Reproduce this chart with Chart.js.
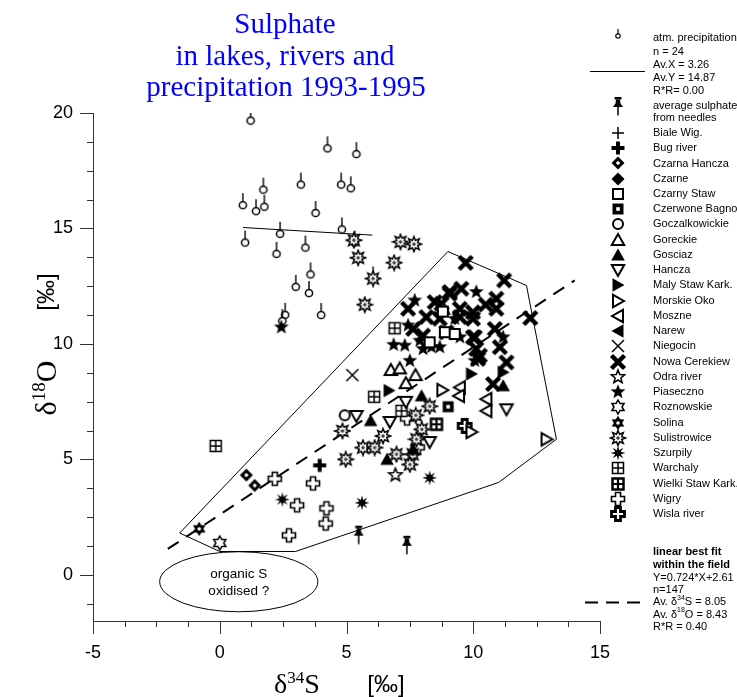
<!DOCTYPE html>
<html lang="en">
<head>
<meta charset="UTF-8">
<title>Sulphate in lakes, rivers and precipitation 1993-1995</title>
<script src="https://cdn.jsdelivr.net/npm/chart.js"></script>
<style>
  body { margin: 0; background: #fff; }
  canvas { display: block; }
</style>
</head>
<body>
<canvas id="chart" width="737" height="697"></canvas>
<script>
// ---- data (x = d34S, y = d18O, permil) ----
const xTicks = [-5, 0, 5, 10, 15];
const yTicks = [0, 5, 10, 15, 20];

const atmPrecip = [[1.22,19.67],[4.25,18.47],[5.39,18.22],[1.72,16.68],[3.20,16.90],[4.79,16.90],[5.17,16.74],[0.91,16.01],
  [1.43,15.75],[1.76,15.94],[3.78,15.67],[2.38,14.77],[4.82,14.96],[1.00,14.39],[2.24,13.90],[3.38,14.17],[3.58,13.01],
  [3.00,12.47],[3.52,12.20],[2.58,11.26],[4.00,11.25],[2.47,10.99],[5.33,14.39],[6.05,12.83]];
const needles = [[5.48,1.74],[7.38,1.30]];

const bialeWig = [];
const bugRiver = [[3.94,4.74]];
const czarnaHancza = [[1.05,4.32],[1.38,3.87]];
const czarne = [];
const czarnyStaw = [[8.88,10.51],[9.27,10.43],[8.28,10.07],[8.80,11.40]];
const czerwoneBagno = [[9.01,7.28]];
const goczalkowickie = [[4.93,6.91]];
const goreckie = [[6.75,8.87],[7.10,8.94],[7.72,8.65],[8.81,11.52],[7.34,8.30]];
const gosciaz = [[7.96,7.75],[5.95,6.68],[11.18,8.19],[6.60,5.00],[7.63,5.43]];
const hancza = [[5.39,6.88],[6.71,6.62],[7.34,7.49],[11.31,7.17],[8.28,5.75]];
const malyStaw = [[6.68,7.98],[9.93,8.70],[11.18,8.77]];
const morskieOko = [[8.78,8.00],[9.93,6.19],[12.89,5.87]];
const moszne = [[9.47,8.12],[9.44,7.75],[10.52,7.61],[10.52,7.10]];
const narew = [];
const niegocin = [[5.23,8.65]];
const nowaCerekiew = [[9.70,13.51],[11.22,12.75],[12.25,11.12],[9.53,12.39],[9.07,12.17],[8.75,11.74],[8.48,11.81],
  [7.43,11.52],[10.91,11.96],[10.49,11.70],[10.91,11.52],[8.15,11.16],[8.68,11.09],[9.47,11.16],[9.99,11.09],[7.63,10.65],
  [10.85,10.65],[10.06,10.29],[11.05,9.86],[10.12,9.78],[10.26,9.49],[11.31,9.20],[10.78,8.26],[8.02,10.36],[8.94,10.50],
  [9.07,12.25],[9.47,11.52],[9.99,11.37],[9.99,10.29],[10.19,9.35]];
const odraRiver = [[6.93,4.32]];
const piaseczno = [[2.43,10.72],[10.12,12.25],[7.69,11.88],[9.27,11.09],[7.43,10.80],[6.86,9.96],[7.30,9.93],[7.89,10.14],
  [8.02,9.78],[8.35,9.86],[8.68,9.86],[9.47,10.29],[7.50,9.27],[10.06,9.27],[11.18,10.29]];
const roznowskie = [[0.00,1.38]];
const solina = [[-0.81,1.99]];
const sulistrowice = [[5.29,14.49],[7.13,14.42],[7.66,14.32],[5.46,13.73],[6.88,13.52],[6.05,12.83],[5.72,11.70],
  [4.84,6.23],[4.97,5.00],[5.65,5.51],[6.11,5.51],[6.44,6.01],[6.97,5.22],[7.73,6.91],[8.28,7.30],[7.97,6.30],
  [7.76,5.87],[7.61,5.22],[7.50,4.78]];
const szurpily = [[2.47,3.26],[5.61,3.12],[8.28,4.20]];
const warchaly = [[-0.16,5.58],[6.90,10.68],[6.09,7.71],[7.17,7.10]];
const wielkiStaw = [[8.55,6.52]];
const wigry = [[2.17,4.16],[3.68,3.96],[3.05,3.01],[4.21,2.88],[4.18,2.22],[2.73,1.71],[7.39,6.77],[7.81,5.52]];
const wislaRiver = [[9.66,6.45]];

const seriesNames = ['Biale Wig.', 'Bug river', 'Czarna Hancza', 'Czarne', 'Czarny Staw', 'Czerwone Bagno',
  'Goczalkowickie', 'Goreckie', 'Gosciaz', 'Hancza', 'Maly Staw Kark.', 'Morskie Oko', 'Moszne', 'Narew',
  'Niegocin', 'Nowa Cerekiew', 'Odra river', 'Piaseczno', 'Roznowskie', 'Solina', 'Sulistrowice', 'Szurpily',
  'Warchaly', 'Wielki Staw Kark.', 'Wigry', 'Wisla river'];
const seriesData = [bialeWig, bugRiver, czarnaHancza, czarne, czarnyStaw, czerwoneBagno, goczalkowickie, goreckie,
  gosciaz, hancza, malyStaw, morskieOko, moszne, narew, niegocin, nowaCerekiew, odraRiver, piaseczno, roznowskie,
  solina, sulistrowice, szurpily, warchaly, wielkiStaw, wigry, wislaRiver];

// lines
const precipFit = [[0.92,15.04],[6.02,14.71]];
const bestFit = [[-2.05,1.12],[14.0,12.75]];
const field = [[-1.58,1.81],[0.0,1.01],[2.99,1.01],[11.0,4.0],[13.28,5.87],[12.1,12.53],[9.0,14.0],[-1.58,1.81]];
const organicEllipse = { cx: 0.75, cy: -0.3, rx: 3.12, ry: 1.3 };

const precipNotes = ['n = 24', 'Av.X = 3.26', 'Av.Y = 14.87', 'R*R= 0.00'];
const fitNotes = ['Y=0.724*X+2.61', 'n=147'];

// ---- marker images ----
function marker(w, h, fn) {
  const c = document.createElement('canvas');
  c.width = w; c.height = h;
  const g = c.getContext('2d');
  g.translate(w / 2, h / 2);
  g.strokeStyle = '#000'; g.fillStyle = '#000';
  g.lineJoin = 'miter';
  fn(g);
  return c;
}
function path(g, pts) {
  g.beginPath();
  pts.forEach((p, i) => i ? g.lineTo(p[0], p[1]) : g.moveTo(p[0], p[1]));
  g.closePath();
}
function starPts(n, ro, ri) {
  const pts = [];
  for (let i = 0; i < 2 * n; i++) {
    const a = i * Math.PI / n, r = i % 2 ? ri : ro;
    pts.push([r * Math.sin(a), -r * Math.cos(a)]);
  }
  return pts;
}
function open(g, pts, lw) { path(g, pts); g.fillStyle = '#fff'; g.fill(); g.lineWidth = lw; g.stroke(); }
function solid(g, pts) { path(g, pts); g.fillStyle = '#000'; g.fill(); }
function lines(g, segs, lw) {
  g.lineWidth = lw; g.beginPath();
  segs.forEach(s => { g.moveTo(s[0], s[1]); g.lineTo(s[2], s[3]); });
  g.stroke();
}
const cross = (a, L) => [[-a,-L],[a,-L],[a,-a],[L,-a],[L,a],[a,a],[a,L],[-a,L],[-a,a],[-L,a],[-L,-a],[-a,-a]];
const box = s => [[-s,-s],[s,-s],[s,s],[-s,s]];
const diamond = r => [[0,-r],[r,0],[0,r],[-r,0]];

const mk = {
  pin: marker(12, 28, g => {
    lines(g, [[0, -3.5, 0, -12]], 1.4);
    g.beginPath(); g.arc(0, 0, 3.6, 0, 2 * Math.PI);
    g.fillStyle = '#fff'; g.fill(); g.lineWidth = 1.5; g.stroke();
  }),
  pinSmall: marker(10, 18, g => {
    lines(g, [[0, -2, 0, -7]], 1.2);
    g.beginPath(); g.arc(0, 0, 2.2, 0, 2 * Math.PI);
    g.fillStyle = '#fff'; g.fill(); g.lineWidth = 1.2; g.stroke();
  }),
  pushpin: marker(14, 22, g => {
    g.fillRect(-3.5, -9, 7, 2.5);
    solid(g, [[-2, -6.5], [2, -6.5], [2.5, -2.5], [5, 1], [-5, 1], [-2.5, -2.5]]);
    lines(g, [[0, 1, 0, 9.5]], 1.5);
  }),
  plus: marker(16, 16, g => lines(g, [[-6, 0, 6, 0], [0, -6, 0, 6]], 1.5)),
  plusBold: marker(18, 18, g => lines(g, [[-6.5, 0, 6.5, 0], [0, -6.5, 0, 6.5]], 4)),
  diamondHole: marker(16, 16, g => { solid(g, diamond(6.5)); g.fillStyle = '#fff'; path(g, diamond(2.2)); g.fill(); }),
  diamond: marker(16, 16, g => solid(g, diamond(6.5))),
  square: marker(16, 16, g => open(g, box(5), 2)),
  squareHole: marker(16, 16, g => { solid(g, box(5.5)); g.fillStyle = '#fff'; path(g, box(1.8)); g.fill(); }),
  circle: marker(16, 16, g => { g.beginPath(); g.arc(0, 0, 5, 0, 2 * Math.PI); g.fillStyle = '#fff'; g.fill(); g.lineWidth = 2; g.stroke(); }),
  triUp: marker(18, 18, g => open(g, [[0, -6], [6.2, 5], [-6.2, 5]], 2)),
  triUpFill: marker(18, 18, g => solid(g, [[0, -6.5], [6.8, 5.5], [-6.8, 5.5]])),
  triDown: marker(18, 18, g => open(g, [[0, 6], [6.2, -5], [-6.2, -5]], 2)),
  triRightFill: marker(18, 18, g => solid(g, [[6.5, 0], [-5.5, -6.8], [-5.5, 6.8]])),
  triRight: marker(18, 18, g => open(g, [[6, 0], [-5, -6.2], [-5, 6.2]], 2)),
  triLeft: marker(18, 18, g => open(g, [[-6, 0], [5, -6.2], [5, 6.2]], 2)),
  triLeftFill: marker(18, 18, g => solid(g, [[-6.5, 0], [5.5, -6.8], [5.5, 6.8]])),
  ex: marker(16, 16, g => lines(g, [[-6, -6, 6, 6], [-6, 6, 6, -6]], 1.5)),
  exBold: marker(20, 20, g => lines(g, [[-6.5, -6.5, 6.5, 6.5], [-6.5, 6.5, 6.5, -6.5]], 4.5)),
  star5: marker(18, 18, g => open(g, starPts(5, 7, 3), 1.5)),
  star5Fill: marker(18, 18, g => solid(g, starPts(5, 7.8, 3.3))),
  hexa: marker(18, 18, g => open(g, starPts(6, 7, 4), 1.5)),
  hexaFill: marker(18, 18, g => {
    solid(g, starPts(6, 7.2, 4.2));
    g.fillStyle = '#fff'; g.beginPath(); g.arc(0, 0, 1.8, 0, 2 * Math.PI); g.fill();
  }),
  burst: marker(18, 18, g => {
    open(g, starPts(8, 7.5, 4), 1.5);
    lines(g, [[-2, 0, 2, 0], [0, -2, 0, 2]], 1);
  }),
  burstFill: marker(18, 18, g => solid(g, starPts(8, 7.5, 3))),
  boxCross: marker(16, 16, g => { open(g, box(5.5), 1.5); lines(g, [[-5.5, 0, 5.5, 0], [0, -5.5, 0, 5.5]], 1.5); }),
  boxCrossBold: marker(18, 18, g => { open(g, box(5.5), 2.5); lines(g, [[-5.5, 0, 5.5, 0], [0, -5.5, 0, 5.5]], 2.2); }),
  greek: marker(18, 18, g => open(g, cross(2.5, 6.5), 1.6)),
  greekBold: marker(18, 18, g => open(g, cross(2.5, 6.5), 2.8))
};
const seriesMarkers = ['plus', 'plusBold', 'diamondHole', 'diamond', 'square', 'squareHole', 'circle', 'triUp',
  'triUpFill', 'triDown', 'triRightFill', 'triRight', 'triLeft', 'triLeftFill', 'ex', 'exBold', 'star5', 'star5Fill',
  'hexa', 'hexaFill', 'burst', 'burstFill', 'boxCross', 'boxCrossBold', 'greek', 'greekBold'];

const SANS = '"Liberation Sans", Arial, sans-serif';
const SERIF = '"Liberation Serif", "Times New Roman", serif';
const pts = arr => arr.map(p => ({ x: p[0], y: p[1] }));

const datasets = seriesNames.map((name, i) => ({
  label: name, data: pts(seriesData[i]), pointStyle: mk[seriesMarkers[i]], pointRadius: 5, showLine: false
}));
datasets.push({ label: 'atm. precipitation', data: pts(atmPrecip), pointStyle: mk.pin, pointRadius: 5, showLine: false, order: 2 });
datasets.push({ label: 'average sulphate from needles', data: pts(needles), pointStyle: mk.pushpin, pointRadius: 5, showLine: false });
datasets.push({ label: 'precip fit', data: pts(precipFit), showLine: true, pointRadius: 0, borderColor: '#000', borderWidth: 1, order: 5 });
datasets.push({ label: 'field', data: pts(field), showLine: true, pointRadius: 0, borderColor: '#000', borderWidth: 1, order: 5 });
datasets.push({ label: 'best fit', data: pts(bestFit), showLine: true, pointRadius: 0, borderColor: '#000', borderWidth: 2, borderDash: [13, 9], order: 5 });

// text with a raised part: parts = [[text, sup?], ...]
function rich(ctx, parts, x, y, size, family, align) {
  const fonts = parts.map(p => (p[1] ? Math.round(size * 0.62) : size) + 'px ' + family);
  let w = 0;
  parts.forEach((p, i) => { ctx.font = fonts[i]; w += ctx.measureText(p[0]).width; });
  let cx = align === 'center' ? x - w / 2 : x;
  ctx.textAlign = 'left';
  parts.forEach((p, i) => {
    ctx.font = fonts[i];
    ctx.fillText(p[0], cx, p[1] ? y - size * 0.36 : y);
    cx += ctx.measureText(p[0]).width;
  });
}

const decor = {
  id: 'decor',
  afterDatasetsDraw(chart) {
    const { ctx, scales: { x, y } } = chart;
    // ellipse
    const e = organicEllipse;
    const ex = x.getPixelForValue(e.cx), ey = y.getPixelForValue(e.cy);
    ctx.save();
    ctx.beginPath();
    ctx.ellipse(ex, ey, x.getPixelForValue(e.cx + e.rx) - ex, ey - y.getPixelForValue(e.cy + e.ry), 0, 0, 2 * Math.PI);
    ctx.strokeStyle = '#000'; ctx.lineWidth = 1; ctx.stroke();
    ctx.fillStyle = '#000'; ctx.font = '13.5px ' + SANS; ctx.textAlign = 'center'; ctx.textBaseline = 'middle';
    ctx.fillText('organic S', ex, ey - 7);
    ctx.fillText('oxidised ?', ex, ey + 10);
    ctx.restore();
  },
  afterDraw(chart) {
    const { ctx, scales: { x, y } } = chart;
    ctx.save();
    // ticks (major + minor, every 1.25)
    ctx.strokeStyle = '#333'; ctx.lineWidth = 1;
    ctx.beginPath();
    for (let k = 0; 20 - k * 1.25 >= -2; k++) {
      const v = 20 - k * 1.25, py = Math.round(y.getPixelForValue(v)) + 0.5;
      const len = v % 5 === 0 ? 13 : 6;
      ctx.moveTo(x.left - len, py); ctx.lineTo(x.left, py);
    }
    for (let k = 0; -5 + k * 1.25 <= 15; k++) {
      const v = -5 + k * 1.25, px = Math.round(x.getPixelForValue(v)) + 0.5;
      const len = v % 5 === 0 ? 13 : 6;
      ctx.moveTo(px, y.bottom); ctx.lineTo(px, y.bottom + len);
    }
    ctx.stroke();

    // title
    ctx.fillStyle = '#0000ff'; ctx.font = '29px ' + SERIF; ctx.textAlign = 'center'; ctx.textBaseline = 'middle';
    ctx.fillText('Sulphate', 285, 25);
    ctx.fillText('in lakes, rivers and', 285, 57);
    ctx.fillText('precipitation 1993-1995', 286, 88);

    // axis titles
    ctx.fillStyle = '#000'; ctx.textBaseline = 'alphabetic';
    rich(ctx, [['δ'], ['34', true], ['S']], 297, 693, 28, SERIF, 'center');
    ctx.font = '24px ' + SANS; ctx.textAlign = 'center';
    ctx.fillText('[‰]', 386, 692);
    ctx.save();
    ctx.translate(56, 388); ctx.rotate(-Math.PI / 2);
    rich(ctx, [['δ'], ['18', true], ['O']], 0, 0, 30, SERIF, 'center');
    ctx.restore();
    ctx.save();
    ctx.translate(54, 292); ctx.rotate(-Math.PI / 2);
    ctx.font = '24px ' + SANS; ctx.textAlign = 'center';
    ctx.fillText('[‰]', 0, 0);
    ctx.restore();

    // legend
    const ix = 618, tx = 653;
    ctx.font = '11px ' + SANS; ctx.textAlign = 'left'; ctx.textBaseline = 'middle'; ctx.fillStyle = '#000';
    const icon = (c, cy) => ctx.drawImage(c, ix - c.width / 2, Math.round(cy - c.height / 2));
    icon(mk.pinSmall, 36);
    ctx.fillText('atm. precipitation', tx, 38);
    [52, 65, 78, 90.5].forEach((ty, i) => ctx.fillText(precipNotes[i], tx, ty));
    ctx.beginPath(); ctx.moveTo(590, 71.5); ctx.lineTo(645, 71.5); ctx.lineWidth = 1; ctx.strokeStyle = '#000'; ctx.stroke();
    icon(mk.pushpin, 106);
    ctx.fillText('average sulphate', tx, 106);
    ctx.fillText('from needles', tx, 118);
    seriesNames.forEach((name, i) => {
      const ty = 133 + i * 15.24;
      icon(mk[seriesMarkers[i]], ty);
      ctx.fillText(name, tx, ty);
    });
    ctx.font = 'bold 11px ' + SANS;
    ctx.fillText('linear best fit', tx, 552);
    ctx.fillText('within the field', tx, 565);
    ctx.font = '11px ' + SANS;
    ctx.fillText(fitNotes[0], tx, 578);
    ctx.fillText(fitNotes[1], tx, 590);
    rich(ctx, [['Av. δ'], ['34', true], ['S = 8.05']], tx, 602, 11, SANS, 'left');
    rich(ctx, [['Av. δ'], ['18', true], ['O = 8.43']], tx, 614.5, 11, SANS, 'left');
    ctx.font = '11px ' + SANS;
    ctx.fillText('R*R = 0.40', tx, 627);
    ctx.beginPath(); ctx.setLineDash([13, 8]); ctx.lineWidth = 2;
    ctx.moveTo(585, 602.5); ctx.lineTo(646, 602.5); ctx.stroke();
    ctx.restore();
  }
};

new Chart(document.getElementById('chart'), {
  type: 'scatter',
  data: { datasets },
  options: {
    responsive: false,
    animation: false,
    events: [],
    layout: { padding: { left: 0, right: 137, top: 113, bottom: 0 } },
    plugins: { legend: { display: false }, tooltip: { enabled: false }, title: { display: false } },
    scales: {
      x: {
        type: 'linear', min: -5, max: 15,
        afterFit: s => { s.height = 76; },
        afterBuildTicks: s => { s.ticks = xTicks.map(v => ({ value: v })); },
        grid: { display: false, drawTicks: false },
        border: { display: true, color: '#333', width: 1 },
        ticks: { color: '#000', font: { size: 18, family: SANS }, padding: 21, maxRotation: 0 }
      },
      y: {
        type: 'linear', min: -2, max: 20,
        afterFit: s => { s.width = 93; },
        afterBuildTicks: s => { s.ticks = yTicks.map(v => ({ value: v })); },
        grid: { display: false, drawTicks: false },
        border: { display: true, color: '#333', width: 1 },
        ticks: { color: '#000', font: { size: 18, family: SANS }, padding: 20 }
      }
    }
  },
  plugins: [decor]
});
</script>
</body>
</html>
